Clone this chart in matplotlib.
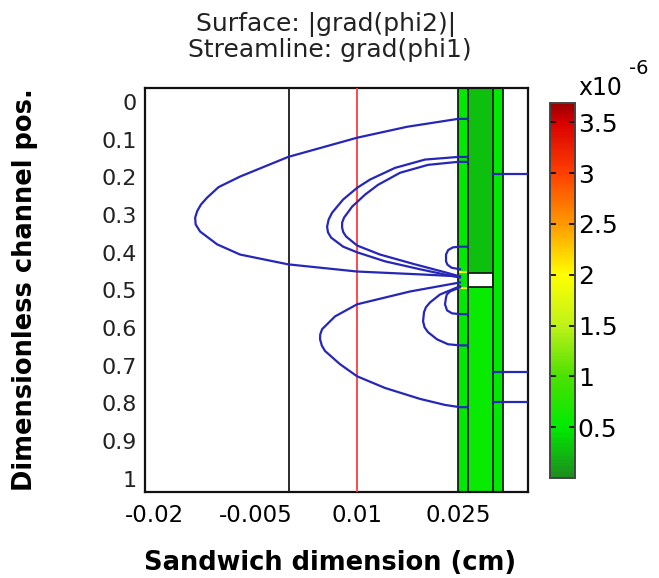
import matplotlib
matplotlib.use('Agg')
import matplotlib.pyplot as plt
import numpy as np
from matplotlib.colors import LinearSegmentedColormap

## Axis ranges and ticks
x_lim = (-0.0214, 0.0353)
y_lim = (1.035, -0.037)
x_ticks = [-0.02, -0.005, 0.01, 0.025]
x_ticklabels = ['-0.02', '-0.005', '0.01', '0.025']
y_ticks = [0, 0.1, 0.2, 0.3, 0.4, 0.5, 0.6, 0.7, 0.8, 0.9, 1]
y_ticklabels = ['0', '0.1', '0.2', '0.3', '0.4', '0.5', '0.6', '0.7', '0.8', '0.9', '1']

## Geometry boundaries (cm)
black_bounds = [0.0, 0.025, 0.0264, 0.0301, 0.0316]
red_bound = 0.01
gap_x = (0.0264, 0.0301)
gap_y = (0.455, 0.49)

## Surface |grad(phi2)| (x1e-6) on the layers
surf_x = [0.025, 0.0264, 0.0301, 0.0316]
surf_y = [-0.037, 0.449, 0.455, 0.49, 0.496, 1.035]
surf_val = [[0.50, 0.28, 0.50],
            [1.90, 0.28, 0.50],
            [0.50, np.nan, 0.50],
            [1.90, 0.55, 0.50],
            [0.50, 0.55, 0.50]]
c_max = 3.69
c_ticks = [0.5, 1, 1.5, 2, 2.5, 3, 3.5]
c_ticklabels = ['0.5', '1', '1.5', '2', '2.5', '3', '3.5']

## Streamlines grad(phi1) (x in cm, y dimensionless)
line_a_x = [0.0264, 0.02496, 0.01741, 0.01001, -0.0002, -0.00731, -0.0105, -0.0122, -0.0131,
            -0.01365, -0.01397, -0.0139, -0.01323, -0.01071, -0.00731, -0.0002, 0.01001,
            0.01977, 0.02525]
line_a_y = [0.045, 0.045, 0.066, 0.095, 0.146, 0.198, 0.226, 0.254, 0.272,
            0.289, 0.307, 0.325, 0.344, 0.378, 0.405, 0.431, 0.450,
            0.458, 0.463]
line_b_x = [0.0264, 0.02496, 0.02007, 0.01563, 0.01193, 0.01001, 0.00794, 0.00631, 0.0058,
            0.00557, 0.0057, 0.00616, 0.00794, 0.01001, 0.01415, 0.01933, 0.02303, 0.02525]
line_b_y = [0.146, 0.146, 0.153, 0.175, 0.206, 0.228, 0.259, 0.294, 0.312,
            0.331, 0.346, 0.360, 0.384, 0.399, 0.423, 0.444, 0.458, 0.466]
line_c_x = [0.0264, 0.02496, 0.02052, 0.01637, 0.01311, 0.01119, 0.00927, 0.00808, 0.0078,
            0.00779, 0.00795, 0.00838, 0.01001, 0.01341, 0.01859, 0.02303, 0.02525]
line_c_y = [0.159, 0.159, 0.167, 0.188, 0.220, 0.246, 0.278, 0.307, 0.320,
            0.333, 0.345, 0.357, 0.381, 0.405, 0.431, 0.452, 0.463]
line_d_x = [0.0264, 0.02525, 0.02420, 0.02350, 0.02318, 0.02318, 0.02340, 0.02400, 0.02525]
line_d_y = [0.384, 0.384, 0.386, 0.393, 0.405, 0.423, 0.432, 0.440, 0.444]
line_e_x = [0.02525, 0.01785, 0.01001, 0.00675, 0.00483, 0.00455, 0.00453, 0.0048, 0.00527,
            0.00749, 0.01001, 0.01415, 0.01933, 0.02303, 0.02525, 0.0264]
line_e_y = [0.479, 0.503, 0.537, 0.569, 0.603, 0.617, 0.630, 0.647, 0.661,
            0.696, 0.728, 0.759, 0.788, 0.804, 0.810, 0.810]
line_f_x = [0.02525, 0.02229, 0.02081, 0.02020, 0.01992, 0.01978, 0.02000, 0.02052, 0.02185,
            0.02348, 0.02525, 0.0264]
line_f_y = [0.489, 0.511, 0.532, 0.545, 0.558, 0.582, 0.598, 0.611, 0.630,
            0.643, 0.646, 0.646]
line_g_x = [0.02525, 0.02377, 0.02330, 0.02318, 0.02303, 0.02333, 0.02407, 0.02525, 0.0264]
line_g_y = [0.492, 0.503, 0.511, 0.519, 0.537, 0.553, 0.561, 0.563, 0.563]
# short streamlines in the right layer
right_lines_y = [0.190, 0.717, 0.796]
right_lines_x = (0.0301, 0.0353)

streamlines = [(line_a_x, line_a_y), (line_b_x, line_b_y), (line_c_x, line_c_y),
               (line_d_x, line_d_y), (line_e_x, line_e_y), (line_f_x, line_f_y),
               (line_g_x, line_g_y)]

# colour map (green - yellow - red)
cmap = LinearSegmentedColormap.from_list('traffic', [
    (0.0 / c_max, (0.12, 0.55, 0.12)),
    (0.5 / c_max, (0.0, 0.92, 0.0)),
    (1.0 / c_max, (0.30, 0.88, 0.0)),
    (1.5 / c_max, (0.75, 0.95, 0.10)),
    (2.0 / c_max, (1.0, 1.0, 0.0)),
    (2.5 / c_max, (1.0, 0.60, 0.0)),
    (3.0 / c_max, (1.0, 0.25, 0.0)),
    (3.5 / c_max, (0.85, 0.0, 0.0)),
    (1.0, (0.60, 0.0, 0.0))])

plt.rcParams['font.family'] = ['DejaVu Sans']

fig = plt.figure(figsize=(6.59, 5.78), dpi=100)
ax = fig.add_axes([0.220, 0.1488, 0.581, 0.699])
cax = fig.add_axes([0.8346, 0.173, 0.0379, 0.6488])

# surface
mesh = ax.pcolormesh(surf_x, surf_y, np.ma.masked_invalid(np.array(surf_val)),
                     cmap=cmap, vmin=0, vmax=c_max, shading='flat', zorder=1)

# geometry boundaries
for xb in black_bounds:
    ax.axvline(xb, color='#1a1a1a', lw=1.3, zorder=3)
ax.axvline(red_bound, color='#ff3b3b', lw=1.3, zorder=3)
ax.plot([gap_x[0], gap_x[1], gap_x[1], gap_x[0], gap_x[0]],
        [gap_y[0], gap_y[0], gap_y[1], gap_y[1], gap_y[0]], color='#1a1a1a', lw=1.3, zorder=3)

# streamlines
for sx, sy in streamlines:
    ax.plot(sx, sy, color='#2626b8', lw=1.6, zorder=4, solid_joinstyle='round')
for ry in right_lines_y:
    ax.plot(right_lines_x, [ry, ry], color='#2626b8', lw=1.6, zorder=4)

ax.set_xlim(x_lim)
ax.set_ylim(y_lim)
ax.set_xticks(x_ticks)
ax.set_xticklabels(x_ticklabels, fontsize=16.5)
ax.set_yticks(y_ticks)
ax.set_yticklabels(y_ticklabels, fontsize=16, color='#222222')
ax.tick_params(axis='both', length=0)
ax.tick_params(axis='x', pad=9)
ax.tick_params(axis='y', pad=6)
for sp in ax.spines.values():
    sp.set_linewidth(1.6)
    sp.set_color('#111111')

# colorbar
cb = fig.colorbar(mesh, cax=cax)
cb.set_ticks(c_ticks)
cb.set_ticklabels(c_ticklabels)
cax.tick_params(direction='in', left=True, right=True, length=4, width=1.2,
                labelsize=18, pad=2)
cb.outline.set_linewidth(1.4)
cb.outline.set_edgecolor('#444444')
fig.text(578 / 659, 1 - 95 / 578, 'x10', fontsize=17, va='baseline', ha='left')
fig.text(629 / 659, 1 - 74 / 578, '-6', fontsize=14, va='baseline', ha='left')

# titles and labels
fig.text(326 / 659, 1 - 31 / 578, 'Surface: |grad(phi2)|', fontsize=18,
         ha='center', va='baseline', color='#222222')
fig.text(330 / 659, 1 - 57 / 578, 'Streamline: grad(phi1)', fontsize=18,
         ha='center', va='baseline', color='#222222')
fig.text(330 / 659, 1 - 570 / 578, 'Sandwich dimension (cm)', fontsize=18.5,
         fontweight='bold', ha='center', va='baseline')
fig.text(25 / 659, 1 - 290 / 578, 'Dimensionless channel pos.', fontsize=18.5,
         fontweight='bold', ha='center', va='center', rotation=90)

fig.savefig('out.png', dpi=100)
